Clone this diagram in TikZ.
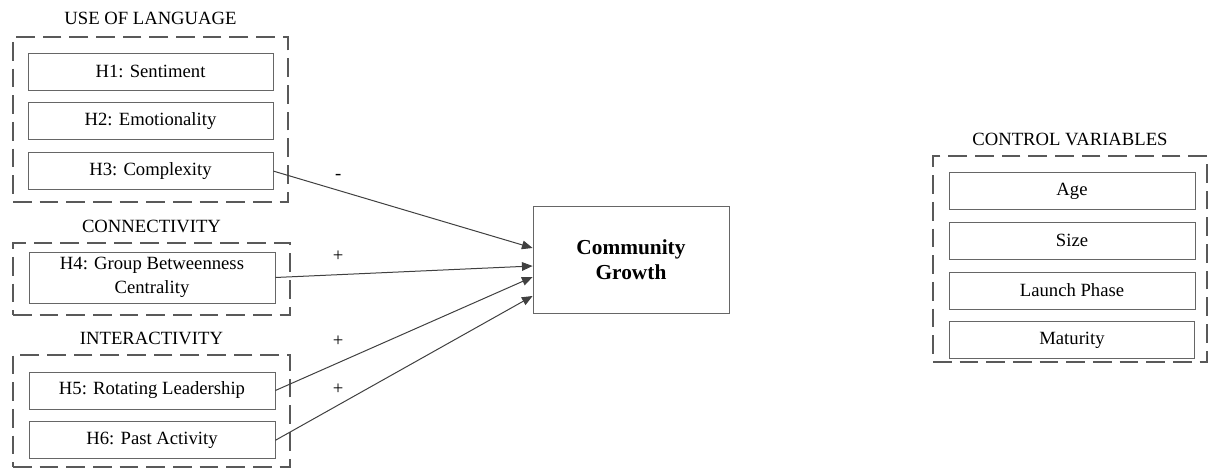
\documentclass[tikz,border=0pt]{standalone}
\usepackage{fontspec}
\setmainfont{Liberation Serif}
\newfontfamily\diagfont{Liberation Serif}
\usetikzlibrary{positioning, arrows.meta, calc}

\begin{document}
\begin{tikzpicture}[x=0.75pt, y=-0.75pt, >={Triangle[length=8pt, width=6.5pt]}, node distance=9pt,
    hyp/.style={draw=black!60, line width=0.6pt, minimum width=183.75pt, minimum height=27.75pt, align=center, inner sep=2pt, font=\diagfont\fontsize{14}{18}\selectfont},
    group/.style={draw=black!65, line width=1.5pt, dash pattern=on 14pt off 6pt, inner sep=0pt},
    title/.style={inner sep=0pt, font=\diagfont\fontsize{14}{16}\selectfont},
    link/.style={->, draw=black!75, line width=0.75pt},
    sign/.style={inner sep=1pt, font=\diagfont\fontsize{14}{16}\selectfont}]
    \useasboundingbox (0,0) rectangle (1208,473);

    % dashed groups
    \node (lang) [group, minimum width=206.25pt, minimum height=123.75pt] at (150.5,119.5) {};
    \node (conn) [group, minimum width=207.75pt, minimum height=54pt] at (151.5,279) {};
    \node (inter) [group, minimum width=207.75pt, minimum height=84pt] at (151.5,411) {};
    \node (ctrl) [group, minimum width=205.5pt, minimum height=154.5pt] at (1070,259) {};
    \node (langtitle) [title, above=8pt of lang] {USE OF LANGUAGE};
    \node (conntitle) [title, above=7pt of conn] {CONNECTIVITY};
    \node (intertitle) [title, above=7pt of inter] {INTERACTIVITY};
    \node (ctrltitle) [title, above=7pt of ctrl] {CONTROL VARIABLES};

    % hypotheses
    \node (h1) [hyp] at (150.5,71.5) {H1: Sentiment};
    \node (h2) [hyp, below=of h1] {H2: Emotionality};
    \node (h3) [hyp, below=of h2] {H3: Complexity};
    \node (h4) [hyp, minimum width=184.5pt, minimum height=38.25pt] at (152,277.5) {H4: Group Betweenness\\Centrality};
    \node (h5) [hyp, minimum width=184.5pt] at (152,390.5) {H5: Rotating Leadership};
    \node (h6) [hyp, minimum width=184.5pt, below=of h5] {H6: Past Activity};

    \node (growth) [hyp, minimum width=147pt, minimum height=80.25pt, font=\diagfont\fontsize{16}{19}\selectfont\bfseries] at (631,259.5) {Community\\Growth};

    % controls
    \node (age) [hyp, minimum width=184.5pt] at (1072,191) {Age};
    \node (size) [hyp, minimum width=184.5pt, below=of age] {Size};
    \node (launch) [hyp, minimum width=184.5pt, below=of size] {Launch Phase};
    \node (maturity) [hyp, minimum width=183.75pt, below=of launch] {Maturity};

    \draw[link] (h3.east) -- node[sign, pos=0.25, above=7pt]{-} ($(growth.west)+(0,-11.5)$);
    \draw[link] (h4.east) -- node[sign, pos=0.244, above=8.2pt]{+} ($(growth.west)+(0,6.5)$);
    \draw[link] (h5.east) -- node[sign, pos=0.244, above=10.5pt]{+} ($(growth.west)+(0,17.5)$);
    \draw[link] (h6.east) -- node[sign, pos=0.244, above=6.7pt]{+} ($(growth.west)+(0,36.5)$);
\end{tikzpicture}
\end{document}
